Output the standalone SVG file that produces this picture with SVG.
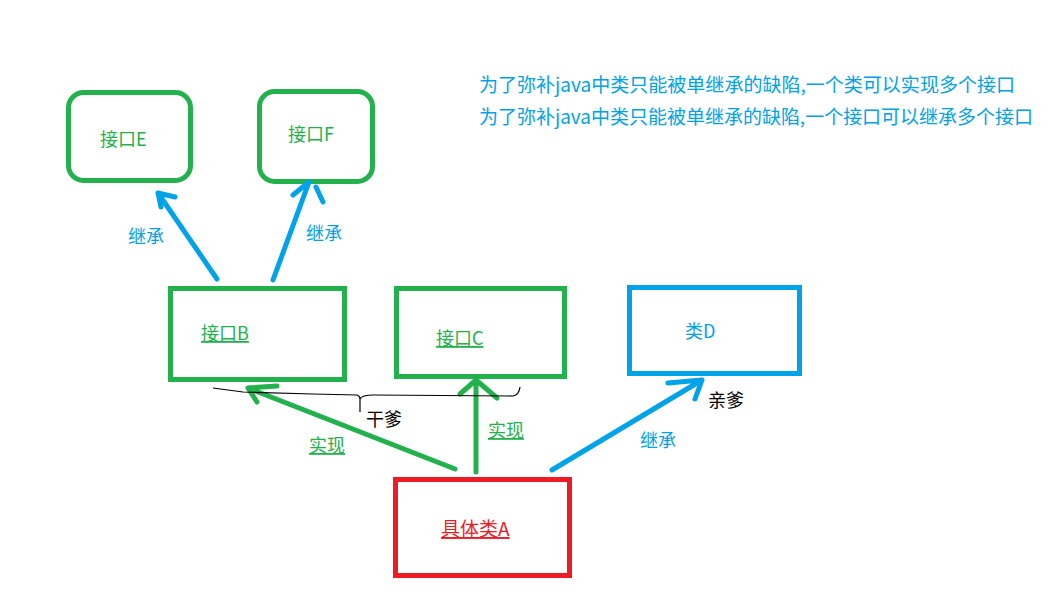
<svg xmlns="http://www.w3.org/2000/svg" width="1051" height="594" viewBox="0 0 1051 594">
<style>
text{font-family:"Noto Sans CJK SC","Noto Sans",sans-serif}
.g{fill:none;stroke:#22b14c;stroke-width:5}
.r{fill:none;stroke:#ed1c24;stroke-width:5}
.b{fill:none;stroke:#00a2e8;stroke-width:5}
.ab{fill:none;stroke:#00a2e8;stroke-width:5;stroke-linecap:round;stroke-linejoin:round}
.ag{fill:none;stroke:#22b14c;stroke-width:5;stroke-linecap:round;stroke-linejoin:round}
.tg{fill:#22b14c;font-size:18px}
.tb{fill:#00a2e8;font-size:18px}
.tk{fill:#000;font-size:18px}
.tr{fill:#ed1c24;font-size:19px}
.u{text-decoration:underline}
</style>
<rect width="1051" height="594" fill="#fff"/>
<g id="header">
<text x="479" y="92" class="tb" style="font-size:19px" textLength="536" lengthAdjust="spacingAndGlyphs">为了弥补java中类只能被单继承的缺陷,一个类可以实现多个接口</text>
<text x="479" y="124" class="tb" style="font-size:19px" textLength="554" lengthAdjust="spacingAndGlyphs">为了弥补java中类只能被单继承的缺陷,一个接口可以继承多个接口</text>
</g>
<g id="nodeE">
<rect x="68.5" y="92.5" width="122" height="88" rx="15" class="g"/>
<text x="100" y="146" class="tg">接口E</text>
</g>
<g id="nodeF">
<rect x="259.5" y="91.5" width="113" height="90" rx="15" class="g"/>
<text x="288" y="141" class="tg">接口F</text>
</g>
<g id="nodeB">
<rect x="170.5" y="288.5" width="174" height="91" class="g"/>
<text x="201" y="340" class="tg u">接口B</text>
</g>
<g id="nodeC">
<rect x="396.5" y="288.5" width="168" height="88" class="g"/>
<text x="436" y="345" class="tg u">接口C</text>
</g>
<g id="nodeD">
<rect x="629.5" y="287.5" width="170" height="86" class="b"/>
<text x="685" y="338" class="tb">类D</text>
</g>
<g id="nodeA">
<rect x="395.5" y="479.5" width="174" height="96" class="r"/>
<text x="441" y="536" class="tr u">具体类A</text>
</g>
<g id="connectors">
<path d="M217,279 L158,193 L175,197 M158,193 L161,207" class="ab"/>
<path d="M273,280 L309,182 L293,195 M316,187 L323,202" class="ab"/>
<path d="M552,470 L702,380 L668,383 M702,380 L695,399" class="ab"/>
<path d="M455,469 L248,388 L277,386 M248,388 L257,402" class="ag"/>
<path d="M476,472 L476,380 L460,394 M476,380 L497,398" class="ag"/>
<path d="M213,388 L243,392 L313,394 L357,395 Q360,396 360,399 L360,412 M360,399 Q362,395 373,395 L513,396 Q519,395 520,387" fill="none" stroke="#000" stroke-width="1.2"/>
</g>
<g id="labels">
<text x="128" y="243" class="tb">继承</text>
<text x="306" y="240" class="tb">继承</text>
<text x="640" y="447" class="tb">继承</text>
<text x="708" y="407" class="tk">亲爹</text>
<text x="366" y="426" class="tk">干爹</text>
<text x="309" y="452" class="tg u">实现</text>
<text x="488" y="437" class="tg u">实现</text>
</g>
</svg>
